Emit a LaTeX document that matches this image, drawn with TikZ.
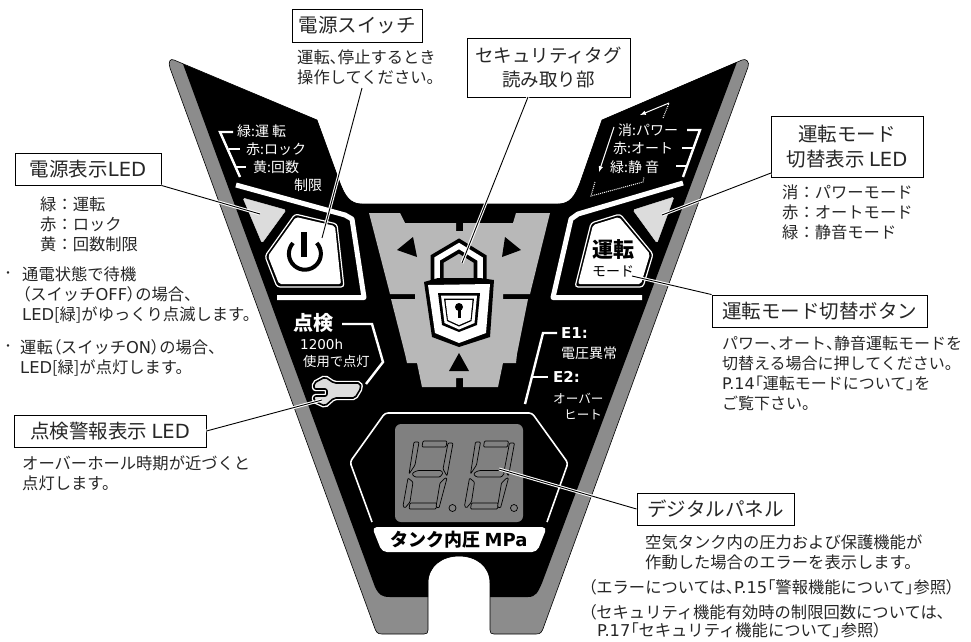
\documentclass[tikz,border=0pt]{standalone}
\usepackage{xcolor}
\usepackage{fontspec}
\setmainfont{Noto Sans CJK JP}
\newfontfamily\paltfont[RawFeature=+palt]{Noto Sans CJK JP}
\newfontfamily\widefont{DejaVu Sans}
\newcommand{\pf}[1]{{\paltfont #1}}
\newcommand{\lat}[1]{{\widefont #1}}
\definecolor{stripgray}{HTML}{8C8C8C}
\definecolor{panelgray}{HTML}{B8B8B8}
\definecolor{screengray}{HTML}{808080}
\definecolor{ledgray}{HTML}{DCDCDC}
\usetikzlibrary{positioning}
\tikzset{
    titlebox/.style={draw, fill=white, line width=0.9pt, inner sep=0pt, align=center, text=black!85,
        font=\fontsize{19.5}{27}\selectfont},
    desc/.style={anchor=west, inner sep=0pt, align=left, text=black!85,
        font=\fontsize{16.3}{20}\selectfont},
    panellabel/.style={anchor=west, inner sep=0pt, text=white,
        font=\fontsize{14}{17}\selectfont},
    smalllabel/.style={panellabel, font=\fontsize{12.6}{15}\selectfont},
    lead/.style={black, line width=0.9pt, preaction={draw=white, line width=3pt}},
    whiteband/.style={draw=white, line width=5pt, line join=round},
    whitetick/.style={draw=white, line width=2.4pt},
    segment/.style={draw=black, line width=0.7pt, fill=screengray, rounded corners=1pt},
}
\begin{document}
\begin{tikzpicture}[x=1pt, y=-1pt]
    \useasboundingbox (0,0) rectangle (971,641);

    \fill[stripgray, draw=black, line width=0.6pt] (174,60) -- (317,120) -- (340,183)
        .. controls (345,196) and (350,204) .. (362,204) -- (558,204)
        .. controls (570,204) and (575,196) .. (580,183) -- (602,120) -- (742,60)
        .. controls (746,58) and (750,62) .. (748,67) -- (544,626)
        .. controls (542,632) and (541,634) .. (536,634) -- (494,634)
        .. controls (491,634) and (490,633) .. (490,630) -- (490,583)
        .. controls (490,566) and (476,556) .. (459,556)
        .. controls (442,556) and (428,566) .. (428,583) -- (428,630)
        .. controls (428,633) and (427,634) .. (424,634) -- (382,634)
        .. controls (377,634) and (376,632) .. (374,626) -- (170,68)
        .. controls (168,62) and (170,58) .. (174,60) -- cycle;
    \fill[black] (183,64) -- (317,120) -- (340,183)
        .. controls (345,196) and (350,204) .. (362,204) -- (558,204)
        .. controls (570,204) and (575,196) .. (580,183) -- (602,120) -- (737,62)
        -- (542,583) .. controls (538,592) and (536,597) .. (528,597) -- (490,597) -- (490,583)
        .. controls (490,566) and (476,556) .. (459,556)
        .. controls (442,556) and (428,566) .. (428,583) -- (428,597) -- (390,597)
        .. controls (382,597) and (379,595) .. (375,587) -- cycle;

    \fill[panelgray] (369,213) -- (400,213) -- (405,223) -- (456,223) -- (456,231) -- (463,231)
        -- (463,223) -- (513,223) -- (516,213) -- (550,213) -- (530,294) -- (503,294) -- (503,299)
        -- (528,299) -- (517,354) -- (516,363) -- (503,363) -- (498,387) -- (463,387) -- (463,378)
        -- (456,378) -- (456,387) -- (422,387) -- (417,363) -- (407,363) -- (405,354) -- (391,299)
        -- (415,299) -- (415,294) -- (390,294) -- cycle;
    \fill (413,237) -- (397,250) -- (417,257) -- cycle;
    \fill (505,237) -- (521,250) -- (502,257) -- cycle;
    \fill (459,353) -- (449,371) -- (469,371) -- cycle;

    \draw[black, line width=13pt, miter limit=4] (437,282) -- (437,259) -- (459,246) -- (480,259) -- (480,282);
    \draw[white, line width=5.5pt] (437,282) -- (437,259) -- (459,246) -- (480,259) -- (480,282);
    \fill[black] (424,282) -- (438,278) -- (480,278) -- (494,280) -- (490,337) -- (459,347) -- (432,337) -- cycle;
    \fill[white] (428,285) -- (490,284) -- (486,333) -- (459,343) -- (435,333) -- cycle;
    \fill[black] (438,293) -- (480,293) -- (477,325) -- (459,332) -- (442,325) -- cycle;
    \fill[white] (441,295.5) -- (477,295.5) -- (474.5,323) -- (459,329.5) -- (444.5,323) -- cycle;
    \fill[black] (444,298.5) -- (474,298.5) -- (471.5,321) -- (459,326.5) -- (447,321) -- cycle;
    \fill[white] (445.5,300) -- (472.5,300) -- (470.5,320) -- (459,325) -- (448,320) -- cycle;
    \fill[black] (459,307) circle (4pt);
    \draw[black, line width=3pt] (459,307) -- (459,318);

    \draw[whiteband] (236,185) -- (345,215) -- (352,219) -- (364,297.5) -- (277,297.5);
    \draw[whiteband] (683,183) -- (578,214) -- (571,219) -- (553,297.5) -- (642,297.5);
    \fill[ledgray, draw=ledgray, rounded corners=1.5pt] (243,198) -- (286,210) -- (262,243) -- cycle;
    \fill[ledgray, draw=ledgray, rounded corners=1.5pt] (633,210) -- (674,197) -- (657,243) -- cycle;

    \draw[white, fill=black, line width=1.2pt, rounded corners=3pt] (295,214) -- (337,224) -- (344,287) -- (277,287) -- (265,256) -- cycle;
    \fill[white, rounded corners=2pt] (296,217) -- (335,226) -- (341,284) -- (279,284) -- (268,256) -- cycle;
    \draw[black, line width=4pt] (293,243) arc[start angle=222, end angle=-42, x radius=16pt, y radius=-16pt];
    \draw[black, line width=5.5pt] (304,232) -- (304,257);
    \draw[white, fill=black, line width=1.2pt, rounded corners=3pt] (620,214) -- (653,254) -- (643,287) -- (575,287) -- (591,223) -- cycle;
    \fill[white, rounded corners=2pt] (619,217) -- (650,254) -- (641,284) -- (578,284) -- (593,225) -- cycle;
    \node[inner sep=0pt, font=\fontsize{21}{21}\selectfont\bfseries] (modetop) at (613,250) {運転};
    \node[inner sep=0pt, font=\fontsize{14}{14}\selectfont] (modelow) at (613,271) {モード};

    \draw[whitetick] (233,132) -- (220,132) -- (240,177);
    \draw[whitetick] (229,149) -- (240,149);
    \draw[whitetick] (236,167) -- (246,167);
    \node[panellabel] (ledgreen) at (237,131) {緑:運 転};
    \node[panellabel] (ledred) at (246,149) {赤:ロック};
    \node[panellabel] (ledyellow) at (253,167) {黄:回数};
    \node[panellabel] (ledlimit) at (294,185) {制限};

    \draw[whitetick] (687,130) -- (700,130) -- (683,177);
    \draw[whitetick] (682,148) -- (693,148);
    \draw[whitetick] (676,166) -- (687,166);
    \node[panellabel] (modeoff) at (618,130) {消:パワー};
    \node[panellabel] (modered) at (613,148) {赤:オート};
    \node[panellabel] (modegreen) at (610,167) {緑:静 音};
    \draw[white, line width=1pt, -latex] (614,127) -- (599,172);
    \draw[white, line width=1pt, densely dotted] (595,182) -- (591,196) -- (643,182) -- (644,177);
    \draw[white, line width=1pt, densely dotted] (663,118) -- (669,103);
    \draw[white, line width=1pt, -latex] (669,103) -- (640,115);

    \node[inner sep=0pt, text=white, font=\fontsize{20}{20}\selectfont\bfseries] (inspecttag) at (313,323) {点検};
    \draw[whitetick] (342,324) -- (372,324) -- (383,362) -- (366,384);
    \node[panellabel, font=\fontsize{13.5}{15}\selectfont\widefont] (inspecthour) at (300,344) {1200h};
    \node[panellabel, font=\fontsize{13.3}{15}\selectfont] (inspectuse) at (303,361) {使用で点灯};
    \draw[white, line width=4.4pt, rounded corners=2pt] (325,377) -- (334,383) -- (360,383) -- (361,388) -- (355,398)
        -- (334,398) -- (325,406) -- (314,401) -- (314,396) -- (327,396) -- (327,389) -- (314,389) -- (314,383) -- cycle;
    \draw[black, fill=ledgray, line width=1.6pt, rounded corners=2pt] (325,377) -- (334,383) -- (360,383) -- (361,388) -- (355,398)
        -- (334,398) -- (325,406) -- (314,401) -- (314,396) -- (327,396) -- (327,389) -- (314,389) -- (314,383) -- cycle;

    \draw[whitetick] (525,404) -- (543,333) -- (557,333);
    \draw[whitetick] (533,377) -- (548,377);
    \node[panellabel, font=\fontsize{15}{15}\selectfont\widefont\bfseries] (errone) at (561,333) {E1:};
    \node[panellabel] (errvolt) at (561,353) {電圧異常};
    \node[panellabel, font=\fontsize{15}{15}\selectfont\widefont\bfseries] (errtwo) at (553,377) {E2:};
    \node[smalllabel] (errover) at (553,399) {オーバー};
    \node[smalllabel] (errheat) at (564,415) {ヒート};

    \draw[white, line width=1.6pt, rounded corners=3pt] (372,522) -- (350,462) -- (385,413) -- (532,413) -- (568,463) -- (547,522);
    \fill[screengray, rounded corners=6pt] (395,424) rectangle (523,522);
    \foreach \dx in {0,61.5}{
        \begin{scope}[xshift=\dx pt]
            \draw[segment] (423,441) -- (447,441) -- (446,447) -- (422,447) -- cycle;
            \draw[segment] (414,472) -- (418,470.5) -- (441,470.5) -- (443,473) -- (440,477) -- (415,477) -- (412,474) -- cycle;
            \draw[segment] (410,503) -- (437,503) -- (436,509) -- (409,509) -- cycle;
            \draw[segment] (414,442) -- (419,442) -- (415,465) -- (409,474) -- cycle;
            \draw[segment] (408,478) -- (413,482) -- (410,502) -- (405,508) -- (403,506) -- cycle;
            \draw[segment] (448,443) -- (453,443) -- (447,476) -- (443,469) -- cycle;
            \draw[segment] (445,478) -- (447,478) -- (439,508) -- (436,507) -- (440,483) -- cycle;
            \draw[black, line width=0.7pt] (452.5,508) circle (3.5pt);
        \end{scope}
    }
    \fill[white, rounded corners=5pt] (372,527) -- (547,527) -- (537,552) -- (382,552) -- cycle;
    \node[inner sep=0pt, font=\fontsize{18}{18}\selectfont\bfseries] (tanktag) at (459,540) {タンク内圧 {\widefont MPa}};

    \node[titlebox, minimum width=130pt, minimum height=33pt] (pwrswitch) at (357,25.5) {電源スイッチ};
    \node[titlebox, minimum width=163pt, minimum height=59pt, font=\fontsize{18.5}{24}\selectfont] (secread) at (548.5,67.5) {セキュリティタグ\\読み取り部};
    \node[titlebox, minimum width=146pt, minimum height=32pt] (pwrled) at (88,169) {電源表示\lat{LED}};
    \node[titlebox, minimum width=192pt, minimum height=32pt] (inspectled) at (110,431) {点検警報表示 \lat{LED}};
    \node[titlebox, minimum width=152pt, minimum height=61pt, font=\fontsize{19.5}{25}\selectfont] (modeled) at (847,146.5) {運転モード\\切替表示 \lat{LED}};
    \node[titlebox, minimum width=215pt, minimum height=32pt] (modebtn) at (819.5,311) {運転モード切替ボタン};
    \node[titlebox, minimum width=157pt, minimum height=32pt] (digipanel) at (715.5,509) {デジタルパネル};

    \coordinate (swfoot) at (362,88);
    \coordinate (swend) at (322,238);
    \coordinate (secfoot) at (528,97);
    \coordinate (secend) at (462,263);
    \coordinate (pwrledend) at (260,214);
    \coordinate (modeledend) at (662,215);
    \coordinate (modeledfoot) at (771,173);
    \coordinate (modebtnend) at (632,276);
    \coordinate (inspectend) at (322,400);
    \coordinate (digiend) at (499,469);
    \draw[lead] (swfoot) -- (swend);
    \draw[lead] (secfoot) -- (secend);
    \draw[lead] (pwrled.south east) -- (pwrledend);
    \draw[lead] (modeledfoot) -- (modeledend);
    \draw[lead] (modebtn.north west) -- (modebtnend);
    \draw[lead] (inspectled.east) -- (inspectend);
    \draw[lead] (digipanel.west) -- (digiend);

    \node[desc] (swtext) at (297,67.5) {運転\pf{、}停止するとき\\操作してください。};
    \node[desc] (pwrledtext) at (40,224.5) {緑：運転\\赤：ロック\\黄：回数制限};
    \node[desc, font=\fontsize{12}{12}\selectfont] (bulletone) at (2,275) {・};
    \node[desc] (standby) at (22,295) {通電状態で待機\\\pf{（}スイッチ\lat{OFF}\pf{）}の場合\pf{、}\\\lat{LED}[緑]がゆっくり点滅します。};
    \node[desc, font=\fontsize{12}{12}\selectfont] (bullettwo) at (2,348) {・};
    \node[desc] (running) at (20,358) {運転\pf{（}スイッチ\lat{ON}\pf{）}の場合\pf{、}\\\lat{LED}[緑]が点灯します。};
    \node[desc] (inspecttext) at (22,473) {オーバーホール時期が近づくと\\点灯します。};
    \node[desc] (modeledtext) at (782,212) {消：パワーモード\\赤：オートモード\\緑：静音モード};
    \node[desc, font=\fontsize{16}{20}\selectfont] (modebtntext) at (722,373.5) {パワー\pf{、}オート\pf{、}静音運転モードを\\切替える場合に押してください。\\\lat{P.14}\pf{「}運転モードについて\pf{」}を\\ご覧下さい。};
    \node[desc] (digitext) at (645,552.5) {空気タンク内の圧力および保護機能が\\作動した場合のエラーを表示します。};
    \node[desc] (errnote) at (588,587) {\pf{（}エラーについては\pf{、}\lat{P.15}\pf{「}警報機能について\pf{」}参照\pf{）}};
    \node[desc, font=\fontsize{16.3}{18}\selectfont] (secnote) at (588,621) {\pf{（}セキュリティ機能有効時の制限回数については\pf{、}\\\hspace*{9pt}\lat{P.17}\pf{「}セキュリティ機能について\pf{」}参照\pf{）}};
\end{tikzpicture}
\end{document}
